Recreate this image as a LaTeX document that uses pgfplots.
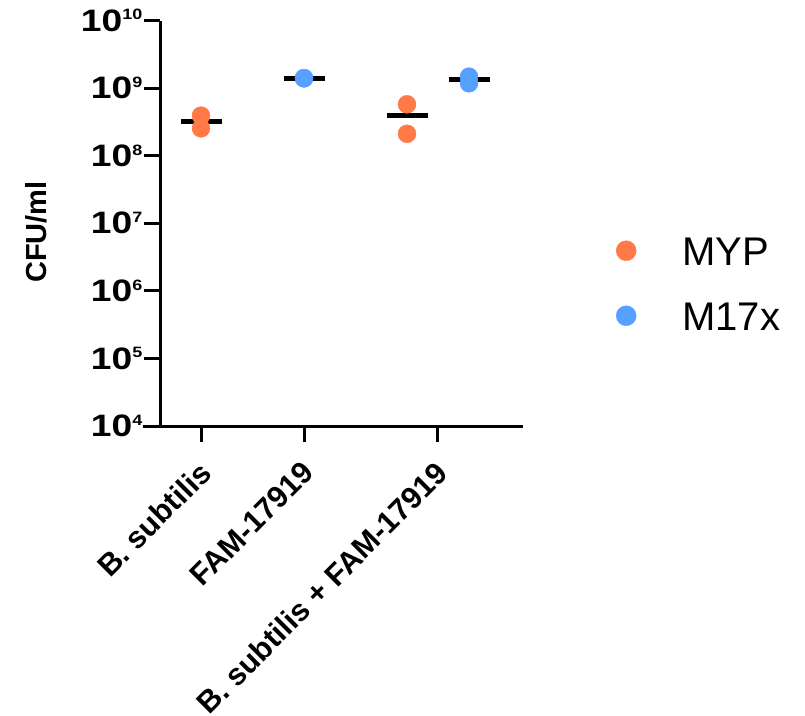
\documentclass[border=0pt]{standalone}
\usepackage{graphicx}
\usepackage{pgfplots}
\pgfplotsset{compat=1.18}
\usepackage{fontspec}
\setmainfont{Liberation Sans}
\definecolor{myp}{RGB}{255,122,71}
\definecolor{mseventeen}{RGB}{86,160,255}
\begin{document}
\begin{tikzpicture}
\path[use as bounding box] (0pt,0pt) rectangle (805pt,-715pt);
\begin{axis}[
  at={(160pt,-426pt)}, anchor=south west,
  scale only axis, width=363pt, height=405.5pt,
  xmin=160, xmax=523,
  ymode=log, ymin=1e4, ymax=1e10,
  clip=false,
  axis x line=bottom, axis y line=left,
  x axis line style={-, line width=3pt, shorten <=-17pt},
  y axis line style={-, line width=3pt},
  xtick={201,304,437.7},
  xticklabels={B. subtilis, FAM-17919, B. subtilis + FAM-17919},
  ytick={1e4,1e5,1e6,1e7,1e8,1e9,1e10},
  yminorticks=false,
  tick align=outside, major tick length=16pt,
  tick style={line width=3pt, black},
  xticklabel style={font=\bfseries\fontsize{30.5}{36}\selectfont, rotate=45, anchor=north east, inner sep=0pt, xshift=-15pt, yshift=-10pt},
  yticklabel style={anchor=east, inner sep=0pt, xshift=-1.5pt},
  log number format basis/.code 2 args={\scalebox{1.2}[1]{\bfseries\fontsize{31}{34}\selectfont #1\raisebox{11.3pt}{\fontsize{15}{16}\selectfont\pgfmathprintnumber[assume math mode=true]{#2}}}},
  ylabel={CFU/ml},
  ylabel style={font=\bfseries\fontsize{29}{34}\selectfont, at={(axis description cs:-0.3416,0.478)}, anchor=center},
  legend style={draw=none, fill=none, at={(axis description cs:1.2562,0.4636)}, anchor=north west,
    font=\fontsize{40}{48}\selectfont, inner sep=0pt, row sep=36pt, column sep=46pt,
    nodes={inner sep=0pt}},
  legend cell align=left,
  legend image code/.code={\draw[#1, mark size=10pt] plot coordinates {(0pt,2pt)};},
]
\addplot[only marks, mark=-, mark size=20.5pt, mark options={line width=4.7pt, black}, forget plot]
  coordinates {(201.5,3.23e8) (304.5,1.40e9) (407.3,3.93e8) (469.5,1.33e9)};
\addplot[only marks, mark=*, mark size=9pt, color=myp]
  coordinates {(201,3.91e8) (201,2.54e8) (407,5.75e8) (407,2.11e8)};
\addlegendentry{MYP}
\addplot[only marks, mark=*, mark size=9pt, color=mseventeen]
  coordinates {(304,1.39e9) (304,1.41e9) (469,1.475e9) (469,1.178e9)};
\addlegendentry{M17x}
\end{axis}
\end{tikzpicture}
\end{document}
